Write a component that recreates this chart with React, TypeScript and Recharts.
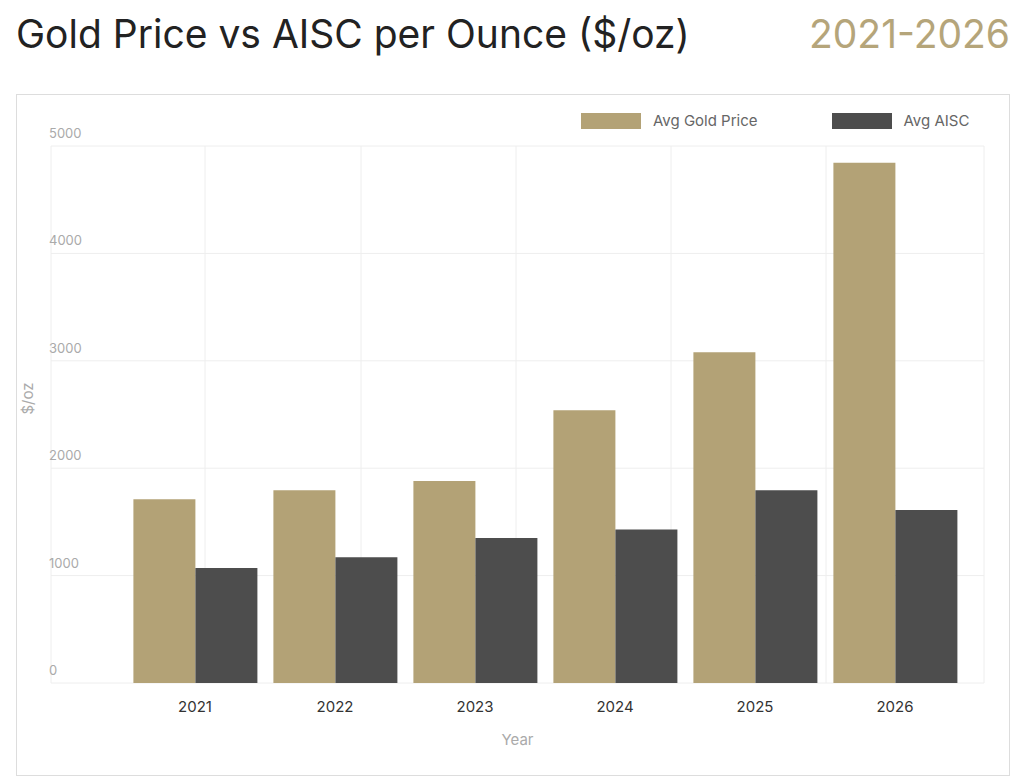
import { BarChart, Bar, XAxis, YAxis, CartesianGrid } from "recharts";

const years = ["2021", "2022", "2023", "2024", "2025", "2026"];
const goldPrice = [1710, 1795, 1880, 2540, 3080, 4845];
const aisc = [1070, 1170, 1350, 1430, 1795, 1610];
const yTicks = [0, 1000, 2000, 3000, 4000, 5000];

const data = years.map((year, i) => ({ year, gold: goldPrice[i], aisc: aisc[i] }));

const GOLD = "#b3a276";
const DARK = "#4d4d4d";
const FONT = "Inter, 'Open Sans', sans-serif";

function YTick({ x, y, payload }: any) {
  return (
    <text x={x + 6} y={y - 8} fontSize={13} fill="#aaa" fontFamily={FONT}>
      {payload.value}
    </text>
  );
}

export default function App() {
  return (
    <div style={{ position: "absolute", left: 0, top: 0, width: 1024, height: 778, background: "#fff", fontFamily: FONT }}>
      <div style={{ position: "absolute", left: 16, top: 10, fontSize: 39, color: "#222" }}>
        Gold Price vs AISC per Ounce ($/oz)
      </div>
      <div style={{ position: "absolute", right: 14, top: 10, fontSize: 39, color: "#b5a57a" }}>2021-2026</div>
      <div style={{ position: "absolute", left: 16, top: 94, width: 992, height: 680, border: "1px solid #ddd" }}>
        <div style={{ position: "absolute", left: 564, top: 16, display: "flex", alignItems: "center", fontSize: 15, color: "#666" }}>
          <span style={{ width: 60, height: 16, background: GOLD, marginRight: 12 }} />
          Avg Gold Price
          <span style={{ width: 60, height: 16, background: DARK, marginLeft: 74, marginRight: 12 }} />
          Avg AISC
        </div>
        <BarChart
          width={992}
          height={680}
          data={data}
          margin={{ top: 51, right: 25, bottom: 62, left: 33 }}
          barCategoryGap="6%"
          barGap={0}
        >
          <CartesianGrid stroke="#eee" verticalPoints={[34, 188, 344, 499, 654, 809, 967]} />
          <XAxis
            dataKey="year"
            padding={{ left: 74, right: 19 }}
            axisLine={false}
            tickLine={false}
            tick={{ fontSize: 15, fill: "#333", fontFamily: FONT }}
            tickMargin={12}
            label={{ value: "Year", position: "insideBottom", offset: -32, fill: "#aaa", fontSize: 15, fontFamily: FONT }}
          />
          <YAxis
            domain={[0, 5000]}
            ticks={yTicks}
            width={1}
            axisLine={false}
            tickLine={false}
            tick={<YTick />}
            label={{ value: "$/oz", angle: -90, position: "insideLeft", offset: -22, fill: "#aaa", fontSize: 15, fontFamily: FONT }}
          />
          <Bar dataKey="gold" fill={GOLD} isAnimationActive={false} />
          <Bar dataKey="aisc" fill={DARK} isAnimationActive={false} />
        </BarChart>
      </div>
    </div>
  );
}
